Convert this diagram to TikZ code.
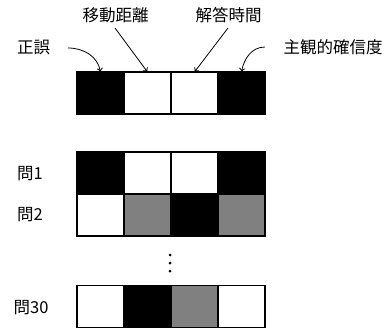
\documentclass[tikz,border=0pt]{standalone}
\usepackage{fontspec}
\setmainfont{Noto Sans CJK JP}
\usetikzlibrary{arrows.meta}
\definecolor{midgray}{HTML}{808080}
\tikzset{
  x=1pt, y=-1pt,
  cell/.style={draw=black, line width=1.2pt, minimum width=47pt, minimum height=42pt, inner sep=0pt, outer sep=0pt},
  blk/.style={cell, fill=black},
  wht/.style={cell, fill=white},
  gry/.style={cell, fill=midgray},
  lbl/.style={font=\fontsize{16.5}{18}\selectfont, inner sep=0pt},
  arr/.style={line width=0.8pt, -{To[length=4pt,width=6pt]}}
}
\begin{document}
\begin{tikzpicture}
\useasboundingbox (0,0) rectangle (391,329);
% top bar
\node[blk] (t1) at (100.5,93) {};
\node[wht] (t2) at (147.5,93) {};
\node[wht] (t3) at (194.5,93) {};
\node[blk] (t4) at (241.5,93) {};
% labels
\node[lbl] (lA) at (33.5,47.5) {正誤};
\node[lbl] (lB) at (115.5,15) {移動距離};
\node[lbl] (lC) at (228.5,15) {解答時間};
\node[lbl] (lD) at (333,47.5) {主観的確信度};
\coordinate (sA) at (68,48);
\coordinate (sB) at (115,28);
\coordinate (sC) at (228,28);
\coordinate (sD) at (265,47);
\draw[arr] (sA) to[out=0,in=100] (t1.north);
\draw[arr] (sB) -- (t2.north);
\draw[arr] (sC) -- (t3.north);
\draw[arr] (sD) to[out=180,in=80] (t4.north);
% row 1
\node[blk] (a1) at (100.5,173) {};
\node[wht] (a2) at (147.5,173) {};
\node[wht] (a3) at (194.5,173) {};
\node[blk] (a4) at (241.5,173) {};
% row 2
\node[wht] (b1) at (100.5,215) {};
\node[gry] (b2) at (147.5,215) {};
\node[blk] (b3) at (194.5,215) {};
\node[gry] (b4) at (241.5,215) {};
% row 30
\node[wht] (c1) at (100.5,306.5) {};
\node[blk] (c2) at (147.5,306.5) {};
\node[gry] (c3) at (194.5,306.5) {};
\node[wht] (c4) at (241.5,306.5) {};
% row labels
\node[lbl] (q1) at (30,174) {問1};
\node[lbl] (q2) at (30,215) {問2};
\node[lbl] (q30) at (31,308) {問30};
% dots
\fill (170,255) circle (1.5);
\fill (170,263) circle (1.5);
\fill (170,271) circle (1.5);
\end{tikzpicture}
\end{document}
